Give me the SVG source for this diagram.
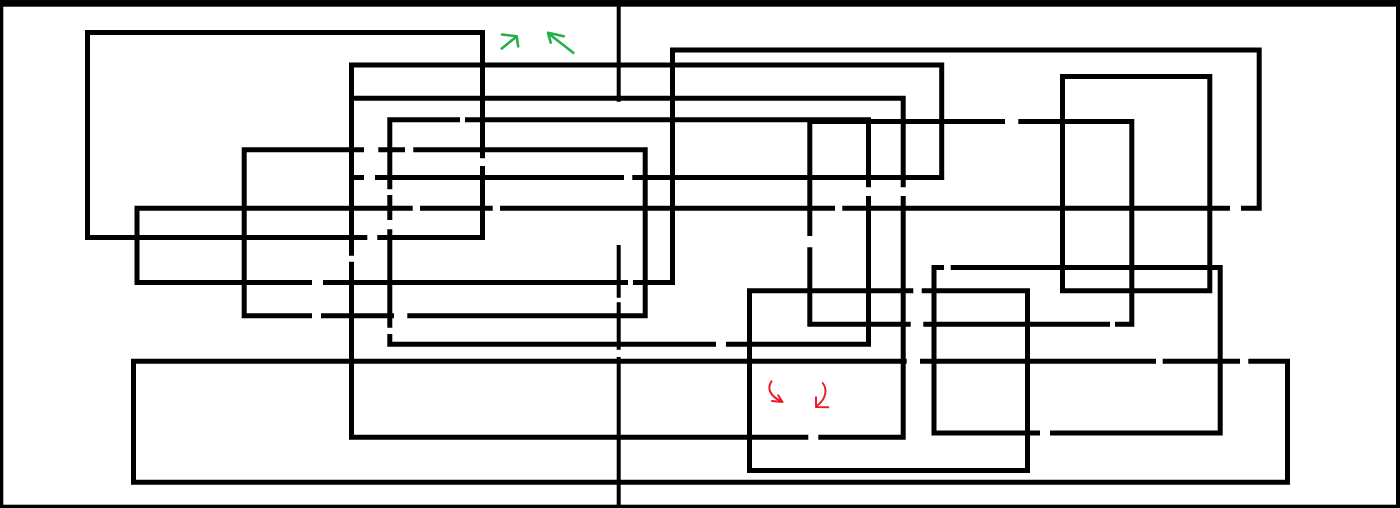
<svg xmlns="http://www.w3.org/2000/svg" width="1400" height="508" viewBox="0 0 1400 508">
<style>
.ln{fill:none;stroke:#000;stroke-width:5;stroke-linecap:butt;stroke-linejoin:miter}
.dv{fill:none;stroke:#000;stroke-width:4;stroke-linecap:butt}
.gr{fill:none;stroke:#22b14c;stroke-width:2.6;stroke-linecap:round;stroke-linejoin:round}
.rd{fill:none;stroke:#ed1c24;stroke-width:2;stroke-linecap:round;stroke-linejoin:round}
</style>
<rect width="1400" height="508" fill="#fff"/>
<g id="frame" fill="#000">
<rect x="0" y="0" width="1400" height="6.7"/>
<rect x="0" y="0" width="3.3" height="508"/>
<rect x="1396" y="0" width="4" height="508"/>
<rect x="0" y="504.7" width="1400" height="3.3"/>
</g>
<g id="divider">
<path class="dv" d="M618.7,0 V101.7 M618.7,245 V297.7 M618.7,302.3 V349.7 M618.7,357 V508"/>
</g>
<g id="loop1"><path class="ln" d="M367.3,237.5 H87.5 V32.5 H482.5 V158.3 M482.5,166 V237.5 H377.3"/></g>
<g id="loop2"><path class="ln" d="M364,177.5 H351.5 V65 H941.7 V177.5 H632.3 M624,177.5 H375"/></g>
<g id="loop3"><path class="ln" d="M351.5,255.7 V98.3 H903.2 V187.3 M903.2,196 V437.2 H818.3 M808.3,437.2 H351.5 V261.7"/></g>
<g id="loop4"><path class="ln" d="M378.3,149.8 H405 M413.3,149.8 H645.2 V315.8 H407.3 M394,315.8 H321 M312,315.8 H244.2 V149.8 H364"/></g>
<g id="loop5"><path class="ln" d="M633,282.5 H672.5 V50 H1259.2 V208.2 H1241 M1230,208.2 H842.3 M835,208.2 H500 M492.7,208.2 H420 M412.7,208.2 H137 V282.5 H312 M323,282.5 H628"/></g>
<g id="loop6"><path class="ln" d="M465,119.8 H868.5 V187.3 M868.5,196 V344.2 H726 M716,344.2 H389.8 V334 M389.8,327.7 V229.3 M389.8,220 V195 M389.8,189.3 V119.8 H460"/></g>
<g id="loop7"><path class="ln" d="M1018.3,121.5 H1131.8 V324.2 H1115 M1110,324.2 H923.3 M910.7,324.2 H809.8 V247.3 M809.8,236 V121.5 H1005"/></g>
<g id="loop8"><path class="ln" d="M1062.5,76.5 H1209.8 V290.8 H1062.5 Z"/></g>
<g id="loop9"><path class="ln" d="M950.7,267.5 H1220.2 V433 H1050 M1040,433 H934 V267.5 H944"/></g>
<g id="loop10"><path class="ln" d="M921.7,290.8 H1027.5 V470.5 H749.5 V290.8 H913.3"/></g>
<g id="loop11"><path class="ln" d="M1248.3,361.2 H1287.5 V482.2 H133.5 V361.2 H906.7 M920,361.2 H1156 M1162.7,361.2 H1240"/></g>
<g id="connectors">
<g id="green-arrows">
<path class="gr" d="M501.7,48.5 L516.7,36.5 M502,34.5 L516.7,36.3 L518.2,46.5"/>
<path class="gr" d="M573.3,52.8 L548.5,33.5 M563.8,36.2 L548,32.8 L550.7,42.7"/>
</g>
<g id="red-arrows">
<path class="rd" d="M771.5,381.3 C767,388 769.5,396.5 782,401.5 M772,401 L782.5,402 L778.2,395.3"/>
<path class="rd" d="M822.7,383 C827.5,389 826.5,399 816.5,406.3 M816,397.3 L816,407 L828.3,407.3"/>
</g>
</g>
</svg>
